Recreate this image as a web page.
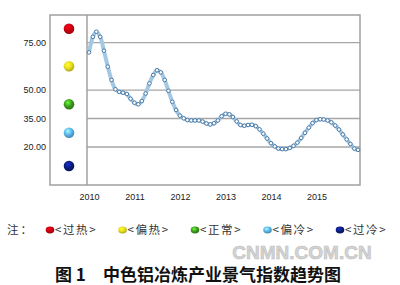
<!DOCTYPE html>
<html>
<head>
<meta charset="utf-8">
<script src="https://cdn.jsdelivr.net/npm/d3@7"></script>
<style>
  body { margin: 0; background: #fff; }
  svg { display: block; }
</style>
</head>
<body>
<div id="wrapper"></div>
<script>
// monthly index values, Jan 2010 .. Dec 2015
const years = [2010, 2011, 2012, 2013, 2014, 2015]
const indexValues = [
  69.8, 78.0, 80.7, 78.0, 70.7, 62.3, 55.3, 50.4, 49.0, 48.6, 47.9, 45.4,
  43.3, 42.5, 44.2, 48.2, 53.5, 57.9, 60.4, 59.3, 55.3, 49.6, 43.8, 39.5,
  36.5, 35.1, 34.2, 34.0, 34.0, 34.0, 33.4, 32.4, 31.9, 32.5, 34.0, 36.2,
  37.5, 37.2, 35.8, 33.5, 31.6, 31.2, 31.6, 31.7, 31.0, 29.3, 27.0, 24.5,
  22.0, 20.3, 19.2, 18.9, 18.9, 19.5, 20.6, 22.3, 24.8, 27.5, 30.2, 32.6,
  34.2, 34.6, 34.5, 34.0, 33.0, 31.3, 29.2, 26.6, 24.0, 21.6, 19.2, 18.5,
]
const thresholds = [75, 50, 35, 20]
const zoneNames = ['过热', '偏热', '正常', '偏冷', '过冷']
const zoneColors = ['#c8000f', '#e6dc1e', '#3c9a1e', '#5ab4ea', '#0c1c78']
const yMax = 89.5

const data = indexValues.map((v, i) => ({ date: new Date(2010, i, 1), value: v }))

const dimensions = {
  width: 400,
  height: 285,
  boxLeft: 50,
  divider: 87,
  boxRight: 360,
  top: 15,
  bottom: 185,
}

const svg = d3
  .select('#wrapper')
  .append('svg')
  .attr('width', dimensions.width)
  .attr('height', dimensions.height)

// gradients for the little balls
const defs = svg.append('defs')
zoneColors.forEach((c, i) => {
  const g = defs
    .append('radialGradient')
    .attr('id', 'ball' + i)
    .attr('cx', '40%')
    .attr('cy', '35%')
    .attr('r', '65%')
  g.append('stop').attr('offset', '0%').attr('stop-color', d3.color(c).brighter(1.6))
  g.append('stop').attr('offset', '55%').attr('stop-color', c)
  g.append('stop').attr('offset', '100%').attr('stop-color', d3.color(c).darker(0.8))
})

// scales
const xScale = d3
  .scaleTime()
  .domain([new Date(2010, 0, 1), new Date(2015, 11, 1)])
  .range([89, 358])

const yScale = d3
  .scaleLinear()
  .domain([0, yMax])
  .range([dimensions.bottom, dimensions.top])

// grid lines
svg
  .append('g')
  .selectAll('line')
  .data(thresholds)
  .join('line')
  .attr('x1', dimensions.divider)
  .attr('x2', dimensions.boxRight)
  .attr('y1', (d) => yScale(d))
  .attr('y2', (d) => yScale(d))
  .attr('stroke', '#a6a6a6')
  .attr('stroke-width', 1.3)

// frame
svg
  .append('rect')
  .attr('x', dimensions.boxLeft)
  .attr('y', dimensions.top)
  .attr('width', dimensions.boxRight - dimensions.boxLeft)
  .attr('height', dimensions.bottom - dimensions.top)
  .attr('fill', 'none')
  .attr('stroke', '#a0a0a0')
  .attr('stroke-width', 1.5)

svg
  .append('line')
  .attr('x1', dimensions.divider)
  .attr('x2', dimensions.divider)
  .attr('y1', dimensions.top)
  .attr('y2', dimensions.bottom)
  .attr('stroke', '#a0a0a0')
  .attr('stroke-width', 1.5)

// y axis labels
const yAxis = d3
  .axisLeft(yScale)
  .tickValues(thresholds)
  .tickFormat(d3.format('.2f'))
  .tickSize(0)
  .tickPadding(4)

svg
  .append('g')
  .attr('transform', `translate(${dimensions.boxLeft},0)`)
  .call(yAxis)
  .call((g) => g.select('.domain').remove())
  .selectAll('text')
  .attr('font-family', 'Liberation Sans, Arial, sans-serif')
  .attr('font-size', 9)
  .attr('fill', '#222')

// x axis labels
const xAxis = d3
  .axisBottom(xScale)
  .tickValues(years.map((y) => new Date(y, 0, 1)))
  .tickFormat(d3.timeFormat('%Y'))
  .tickSize(0)
  .tickPadding(9)

svg
  .append('g')
  .attr('transform', `translate(0,${dimensions.bottom})`)
  .call(xAxis)
  .call((g) => g.select('.domain').remove())
  .selectAll('text')
  .attr('font-family', 'Liberation Sans, Arial, sans-serif')
  .attr('font-size', 9)
  .attr('fill', '#222')

// zone balls on the left panel
const zoneBounds = [yMax, ...thresholds, 0]
svg
  .append('g')
  .selectAll('circle')
  .data(zoneNames)
  .join('circle')
  .attr('cx', 69)
  .attr('cy', (d, i) => yScale((zoneBounds[i] + zoneBounds[i + 1]) / 2))
  .attr('r', 5.3)
  .attr('fill', (d, i) => `url(#ball${i})`)

// the line
const lineGenerator = d3
  .line()
  .x((d) => xScale(d.date))
  .y((d) => yScale(d.value))
  .curve(d3.curveCatmullRom)

svg
  .append('path')
  .datum(data)
  .attr('d', lineGenerator)
  .attr('fill', 'none')
  .attr('stroke', '#a2c8e4')
  .attr('stroke-width', 4)
  .attr('stroke-linejoin', 'round')

svg
  .append('g')
  .selectAll('circle')
  .data(data)
  .join('circle')
  .attr('cx', (d) => xScale(d.date))
  .attr('cy', (d) => yScale(d.value))
  .attr('r', 1.8)
  .attr('fill', '#fff')
  .attr('stroke', '#3c6e9c')
  .attr('stroke-width', 0.9)

// legend
const cjk = '"Noto Sans CJK SC", "Noto Sans", sans-serif'
svg
  .append('text')
  .attr('x', 7)
  .attr('y', 234)
  .attr('font-family', cjk)
  .attr('font-size', 11.5)
  .attr('fill', '#333')
  .attr('letter-spacing', 2)
  .text('注：')

const legend = svg
  .append('g')
  .selectAll('g')
  .data(zoneNames)
  .join('g')
  .attr('transform', (d, i) => `translate(${50 + i * 72.5},230)`)

legend
  .append('ellipse')
  .attr('rx', 4.3)
  .attr('ry', 3.4)
  .attr('fill', (d, i) => `url(#ball${i})`)

legend
  .append('text')
  .attr('x', 5)
  .attr('y', 4.2)
  .attr('font-family', cjk)
  .attr('font-size', 11.5)
  .attr('letter-spacing', 1.6)
  .attr('fill', '#333')
  .text((d) => `<${d}>`)

// watermark
svg
  .append('text')
  .attr('x', 302)
  .attr('y', 259)
  .attr('text-anchor', 'middle')
  .attr('font-family', 'Liberation Sans, Arial, sans-serif')
  .attr('font-size', 19)
  .attr('font-weight', 'bold')
  .attr('fill', '#d4d4d4')
  .attr('stroke', '#bdbdbd')
  .attr('stroke-width', 0.6)
  .text('CNMN.COM.CN')

// title
const title = svg
  .append('g')
  .attr('font-family', cjk)
  .attr('font-size', 17)
  .attr('font-weight', 'bold')
  .attr('fill', '#111')

title.append('text').attr('x', 55).attr('y', 281).text('图 1')
title.append('text').attr('x', 103).attr('y', 281).text('中色铝冶炼产业景气指数趋势图')
</script>
</body>
</html>
